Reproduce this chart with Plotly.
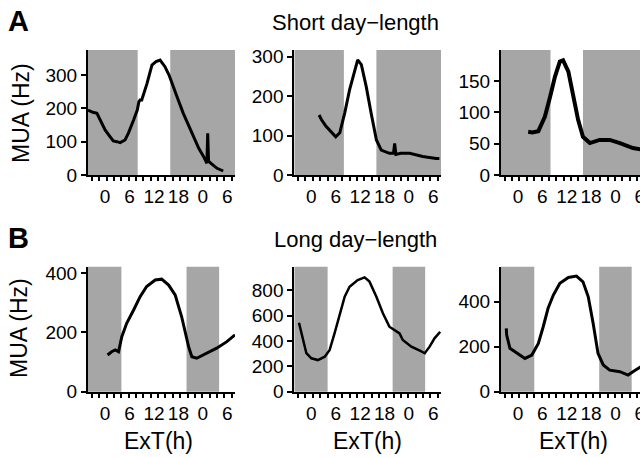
import plotly.graph_objects as go

# ---------------- data (ExT hours, MUA Hz) ----------------
short1_h = [-4.2, -3.0, -2.0, -1.0, 0.0, 1.2, 2.0, 2.9, 3.7, 4.9, 5.7, 7.0, 7.9, 8.3, 8.6, 9.0, 10.3,
            11.5, 12.5, 13.5, 14.7, 15.7, 16.7, 17.8, 19.2, 20.5, 21.7, 23.0, 24.2, 25.0, 25.2, 25.4,
            26.0, 27.5, 29.0]
short1_v = [195, 188, 185, 160, 135, 115, 102, 100, 97, 105, 125, 165, 195, 220, 225, 225, 275,
            330, 340, 345, 325, 300, 265, 230, 185, 150, 115, 80, 55, 35, 125, 42,
            35, 20, 12]

short2_h = [1.9, 2.5, 3.5, 4.5, 6.0, 7.0, 8.2, 9.4, 10.6, 11.4, 12.3, 13.5, 14.7, 16.0, 17.2,
            19.2, 20.2, 20.5, 20.8, 22.0, 24.2, 27.4, 30.7, 31.5]
short2_v = [152, 140, 125, 114, 97, 107, 157, 216, 266, 292, 280, 224, 157, 89, 63,
            55, 55, 80, 52, 55, 55, 47, 42, 42]

short3_h = [2.5, 3.5, 5.0, 6.6, 7.9, 9.1, 10.3, 11.1, 12.4, 13.6, 14.8, 16.0, 17.7, 20.1, 22.6,
            25.1, 28.3, 31.0]
short3_v = [69, 68, 70, 93, 125, 157, 181, 183, 165, 125, 88, 61, 51, 56, 56, 51, 43, 40]

long1_h = [0.6, 1.6, 2.5, 3.3, 4.1, 5.3, 7.0, 8.6, 10.2, 12.3, 13.9, 15.6, 17.2, 18.8, 20.5,
           21.3, 22.5, 25.0, 27.4, 29.9, 31.9]
long1_v = [124, 135, 141, 135, 186, 231, 276, 321, 355, 377, 380, 360, 327, 253, 152,
           118, 113, 130, 147, 169, 192]

long2_h = [-3.05, -2.06, -1.23, 0.0, 1.6, 3.3, 4.5, 5.7, 7.0, 8.2, 9.4, 11.4, 13.1, 14.3, 16.0,
           17.6, 19.2, 20.9, 21.7, 22.5, 24.6, 26.7, 27.9, 29.1, 30.3, 31.7]
long2_v = [545, 409, 304, 264, 250, 277, 330, 461, 620, 751, 830, 883, 904, 870, 751,
           620, 514, 474, 461, 409, 356, 324, 304, 356, 422, 474]

long3_h = [-2.9, -2.8, -2.0, -0.3, 1.7, 3.4, 5.0, 6.2, 7.4, 8.7, 10.3, 12.4, 14.4, 16.0, 17.3,
           18.5, 19.7, 21.0, 22.6, 25.1, 27.1, 28.3, 30.0, 31.5]
long3_v = [282, 252, 193, 171, 148, 163, 215, 289, 371, 430, 482, 508, 514, 489, 422,
           304, 171, 119, 96, 89, 74, 89, 111, 125]

# dark periods (hours)
short_dark = [(-4.2, 8.0), (16.0, 32.0)]
long_dark = [(-4.2, 4.0), (20.0, 28.0)]

xtick_vals = [0, 6, 12, 18, 24, 30]
xtick_text = ["0", "6", "12", "18", "0", "6"]

y_ranges = [375, 317, 199.5, 422, 988, 556]
y_ticks = [[0, 100, 200, 300], [0, 100, 200, 300], [0, 50, 100, 150],
           [0, 200, 400], [0, 200, 400, 600, 800], [0, 200, 400]]
x_ranges = [[-4.2, 31.9], [-4.2, 31.9], [-4.2, 30.05],
            [-4.2, 31.9], [-4.2, 31.9], [-4.2, 30.05]]

series = [(short1_h, short1_v, 3), (short2_h, short2_v, 3), (short3_h, short3_v, 4),
          (long1_h, long1_v, 3), (long2_h, long2_v, 2.5), (long3_h, long3_v, 3)]

W, H = 640, 457
col_px = [(88, 235), (294.3, 441), (501, 640)]
row_px = [(50, 175), (266.7, 391.7)]

FONT = "Arial, Liberation Sans, Helvetica, sans-serif"
GRAY = "#a6a6a6"

fig = go.Figure()
layout = dict(width=W, height=H, margin=dict(l=0, r=0, t=0, b=0, autoexpand=False),
              paper_bgcolor="white", plot_bgcolor="white", showlegend=False,
              font=dict(family=FONT, color="black"))
shapes = []

for i in range(6):
    r, c = divmod(i, 3)
    n = "" if i == 0 else str(i + 1)
    xa, ya = "x" + n, "y" + n
    h, v, lw = series[i]
    fig.add_trace(go.Scatter(x=h, y=v, mode="lines", xaxis=xa, yaxis=ya,
                             line=dict(color="black", width=lw), hoverinfo="skip"))
    x0, x1 = col_px[c]
    y0, y1 = row_px[r]
    layout["xaxis" + n] = dict(
        domain=[x0 / W, x1 / W], anchor=ya, range=x_ranges[i],
        showgrid=False, zeroline=False, showline=True, linecolor="black", linewidth=2,
        tickmode="array", tickvals=xtick_vals, ticktext=xtick_text,
        ticks="outside", ticklen=3, tickcolor="rgba(0,0,0,0)",
        ticklabeloverflow="allow",
        tickfont=dict(size=19, family=FONT, color="black"),
        minor=dict(tickmode="linear", tick0=-3.27, dtick=1.81, ticks="outside",
                   ticklen=4, tickwidth=2, tickcolor="black", showgrid=False),
        fixedrange=True)
    layout["yaxis" + n] = dict(
        domain=[1 - y1 / H, 1 - y0 / H], anchor=xa, range=[0, y_ranges[i]],
        showgrid=False, zeroline=False, showline=True, linecolor="black", linewidth=2,
        tickmode="array", tickvals=y_ticks[i], ticks="outside", ticklen=5, tickwidth=2,
        tickcolor="black", tickfont=dict(size=19, family=FONT, color="black"),
        fixedrange=True)
    dark = short_dark if r == 0 else long_dark
    for a, b in dark:
        shapes.append(dict(type="rect", xref=xa, yref=ya + " domain", x0=a, x1=b,
                           y0=0, y1=1, fillcolor=GRAY, line=dict(width=0), layer="below"))

annotations = [
    dict(text="<b>A</b>", x=18 / W, y=1 - 21 / H, font=dict(size=29)),
    dict(text="<b>B</b>", x=18 / W, y=1 - 238 / H, font=dict(size=29)),
    dict(text="Short day\u2212length", x=355 / W, y=1 - 22 / H, font=dict(size=22)),
    dict(text="Long day\u2212length", x=355 / W, y=1 - 240 / H, font=dict(size=22)),
    dict(text="MUA (Hz)", x=21 / W, y=1 - 113 / H, textangle=-90, font=dict(size=23)),
    dict(text="MUA (Hz)", x=19 / W, y=1 - 328 / H, textangle=-90, font=dict(size=23)),
    dict(text="ExT(h)", x=158 / W, y=1 - 441 / H, font=dict(size=23)),
    dict(text="ExT(h)", x=367.5 / W, y=1 - 441 / H, font=dict(size=23)),
    dict(text="ExT(h)", x=573 / W, y=1 - 441 / H, font=dict(size=23)),
]
for a in annotations:
    a.update(xref="paper", yref="paper", showarrow=False, xanchor="center", yanchor="middle")
    a["font"].update(family=FONT, color="black")

layout["shapes"] = shapes
layout["annotations"] = annotations
fig.update_layout(**layout)
fig.write_html("out.html", config={"displayModeBar": False},
               post_script="document.body.style.margin='0';document.body.style.overflow='hidden';")
